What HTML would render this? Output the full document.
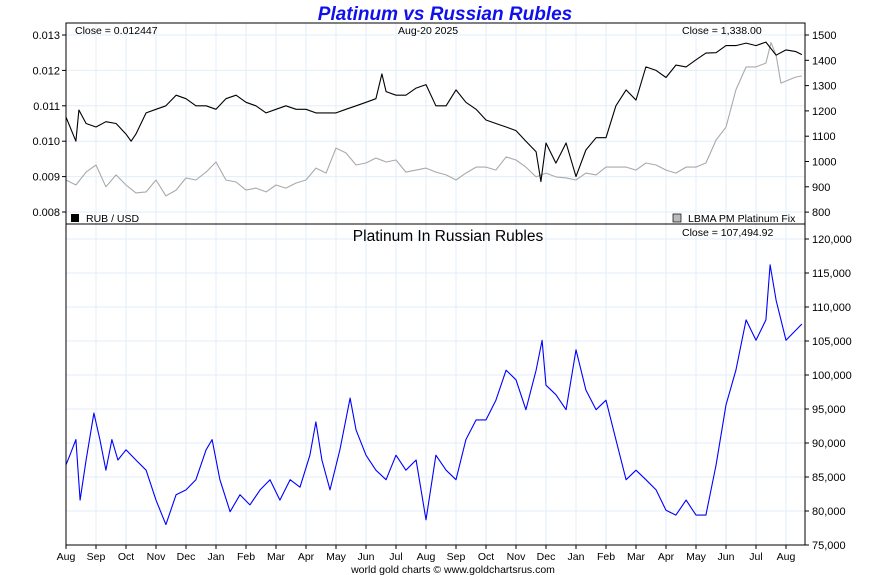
<!DOCTYPE html>
<html><head><meta charset="utf-8"><style>
body{margin:0;background:#fff;}
svg{display:block;font-family:"Liberation Sans",sans-serif;}
</style></head><body>
<svg id="chart" width="890" height="575" viewBox="0 0 890 575">
<rect width="890" height="575" fill="#fff"/>
<text x="445" y="20" text-anchor="middle" font-size="19" font-weight="bold" font-style="italic" fill="#1010ee">Platinum vs Russian Rubles</text>
<g id="grid"></g>
<g id="series"></g>
<g id="axes"></g>
<rect x="66" y="23" width="739" height="201" fill="none" stroke="#000"/>
<rect x="66" y="224" width="739" height="321" fill="none" stroke="#000"/>
<text x="75" y="34" font-size="10.5">Close = 0.012447</text>
<text x="398" y="34" font-size="10.5">Aug-20  2025</text>
<text x="682" y="34" font-size="10.5">Close = 1,338.00</text>
<rect x="71" y="214" width="8" height="8" fill="#000"/>
<text x="86" y="222" font-size="10.5">RUB / USD</text>
<rect x="673" y="214" width="8" height="8" fill="#bbb" stroke="#000" stroke-width="0.7"/>
<text x="688" y="222" font-size="10.5">LBMA PM Platinum Fix</text>
<text x="448" y="241" text-anchor="middle" font-size="15.5">Platinum In Russian Rubles</text>
<text x="682" y="236" font-size="10.5">Close = 107,494.92</text>
<text x="453" y="573" text-anchor="middle" font-size="10.5">world gold charts © www.goldchartsrus.com</text>
</svg>
<script>
const monthLabels=["Aug","Sep","Oct","Nov","Dec","Jan","Feb","Mar","Apr","May","Jun","Jul","Aug","Sep","Oct","Nov","Dec","Jan","Feb","Mar","Apr","May","Jun","Jul","Aug"];
const rubTicks=[0.008,0.009,0.010,0.011,0.012,0.013];
const platTicks=[800,900,1000,1100,1200,1300,1400,1500];
const bottomTicks=[75000,80000,85000,90000,95000,100000,105000,110000,115000,120000];
const rubMonths=[0,0.33,0.43,0.67,1,1.33,1.67,2,2.17,2.33,2.67,3,3.33,3.67,4,4.33,4.67,5,5.33,5.67,6,6.33,6.67,7,7.33,7.67,8,8.33,8.67,9,9.33,9.67,10,10.33,10.53,10.67,11,11.33,11.67,12,12.33,12.67,13,13.33,13.67,14,14.33,14.67,15,15.33,15.67,15.83,16,16.33,16.67,17,17.33,17.67,18,18.33,18.67,19,19.33,19.67,20,20.33,20.67,21,21.33,21.67,22,22.33,22.67,23,23.33,23.67,24,24.33,24.53];
const rubUsd=[.01068,.0100,.01088,.0105,.0104,.01055,.0105,.0102,.0100,.0102,.0108,.0109,.0110,.0113,.0112,.0110,.0110,.0109,.0112,.0113,.0111,.0110,.0108,.0109,.0110,.0109,.0109,.0108,.0108,.0108,.0109,.0110,.0111,.0112,.0119,.0114,.0113,.0113,.0115,.0116,.0110,.0110,.01145,.0111,.0109,.0106,.0105,.0104,.0103,.0100,.0097,.00886,.00995,.00938,.00995,.0090,.00975,.0101,.0101,.0110,.01145,.01116,.0121,.0120,.0118,.01215,.0121,.0123,.01249,.0125,.0127,.0127,.01277,.0127,.0128,.01243,.01258,.01253,.012447];
const platMonths=[0,0.33,0.67,1,1.33,1.67,2,2.33,2.67,3,3.33,3.67,4,4.33,4.67,5,5.33,5.67,6,6.33,6.67,7,7.33,7.67,8,8.33,8.67,9,9.33,9.67,10,10.33,10.67,11,11.33,11.67,12,12.33,12.67,13,13.33,13.67,14,14.33,14.67,15,15.33,15.67,16,16.33,16.67,17,17.33,17.67,18,18.33,18.67,19,19.33,19.67,20,20.33,20.67,21,21.33,21.67,22,22.33,22.67,23,23.33,23.5,23.67,23.83,24,24.33,24.53];
const platUsd=[927,907,958,986,900,947,907,876,880,927,864,887,935,927,958,998,927,919,887,895,880,907,895,915,927,974,954,1053,1034,986,994,1014,998,1006,958,966,974,958,947,927,954,978,978,966,1018,1006,978,939,954,939,935,927,954,947,978,978,978,966,994,986,966,954,978,978,994,1085,1136,1283,1374,1374,1389,1470,1420,1310,1318,1334,1338];
const rubleMonths=[0,.13,.33,.47,.67,.93,1.13,1.33,1.53,1.73,2,2.33,2.67,3,3.33,3.67,4,4.33,4.67,4.87,5.13,5.47,5.8,6.13,6.47,6.8,7.13,7.47,7.8,8.13,8.33,8.53,8.8,9.13,9.47,9.67,10,10.33,10.67,11,11.33,11.67,12,12.33,12.67,13,13.33,13.67,14,14.33,14.67,15,15.33,15.67,15.87,16,16.33,16.67,17,17.33,17.67,18,18.33,18.67,19,19.33,19.67,20,20.33,20.67,21,21.33,21.67,22,22.33,22.67,23,23.33,23.47,23.67,24,24.33,24.53];
const platRub=[86800,88200,90500,81600,87500,94400,90500,86000,90500,87500,89000,87500,86000,81600,78000,82400,83100,84600,89000,90500,84600,79900,82400,80900,83100,84600,81600,84600,83500,88200,93100,87500,83100,89000,96600,91900,88200,86000,84600,88200,86000,87500,78700,88200,86000,84600,90500,93400,93400,96300,100700,99300,94900,100700,105100,98500,97100,94900,103700,97800,94900,96300,90500,84600,86000,84600,83100,80100,79400,81600,79400,79400,86800,95600,100700,108100,105100,108100,116200,111000,105100,106600,107500];

const NS="http://www.w3.org/2000/svg";
const X0=66,XPM=30;
const xs=t=>X0+XPM*t;
const yRub=v=>35+(0.013-v)/0.001*35.4;
const yPlat=v=>35+(1500-v)/100*25.3;
const yBot=v=>239+(120000-v)/5000*34;
function mk(tag,attrs,parent){const e=document.createElementNS(NS,tag);for(const k in attrs)e.setAttribute(k,attrs[k]);parent.appendChild(e);return e;}
const grid=document.getElementById('grid'),series=document.getElementById('series'),axes=document.getElementById('axes');
const gc="#e2eef8";
monthLabels.forEach((m,i)=>{
  const x=xs(i);
  if(i>0){const g=mk('line',{x1:x,x2:x,y1:23,y2:545,stroke:gc},grid);
  
  }
  const tk=mk('line',{x1:x,x2:x,y1:545,y2:549,stroke:'#000'},axes);
  
  
  const t=mk('text',{x:x,y:560,'text-anchor':'middle','font-size':'10.5'},axes);
  t.textContent=m;
  
  
});
rubTicks.forEach(v=>{
  const y=yRub(v);
  const g=mk('line',{x1:66,x2:805,y1:y,y2:y,stroke:gc},grid);
  
  
  const tk=mk('line',{x1:62,x2:66,y1:y,y2:y,stroke:'#000'},axes);
  
  
  const t=mk('text',{x:60,y:y+4,'text-anchor':'end','font-size':'11'},axes);
  t.textContent=v.toFixed(3);
  
  
});
platTicks.forEach(v=>{
  const y=yPlat(v);
  const tk=mk('line',{x1:805,x2:809,y1:y,y2:y,stroke:'#000'},axes);
  
  
  const t=mk('text',{x:812,y:y+4,'font-size':'11'},axes);
  t.textContent=v;
  
  
});
bottomTicks.forEach(v=>{
  const y=yBot(v);
  const g=mk('line',{x1:66,x2:805,y1:y,y2:y,stroke:gc},grid);
  
  
  const tk=mk('line',{x1:805,x2:809,y1:y,y2:y,stroke:'#000'},axes);
  
  
  const t=mk('text',{x:812,y:y+4,'font-size':'11'},axes);
  t.textContent=v.toLocaleString('en-US');
  
  
});
function line(ts,vs,yf,color,name){
  const d=vs.map((v,i)=>(i?'L':'M')+xs(ts[i]).toFixed(1)+' '+yf(v).toFixed(1)).join(' ');
  const p=mk('path',{d:d,fill:'none',stroke:color,'stroke-width':1.1,'stroke-linejoin':'round'},series);
  
  
}
line(platMonths,platUsd,yPlat,'#aaaaaa','platinum-usd-line');
line(rubMonths,rubUsd,yRub,'#000000','rub-usd-line');
line(rubleMonths,platRub,yBot,'#0000ff','platinum-in-rubles-line');
</script>
</body></html>
